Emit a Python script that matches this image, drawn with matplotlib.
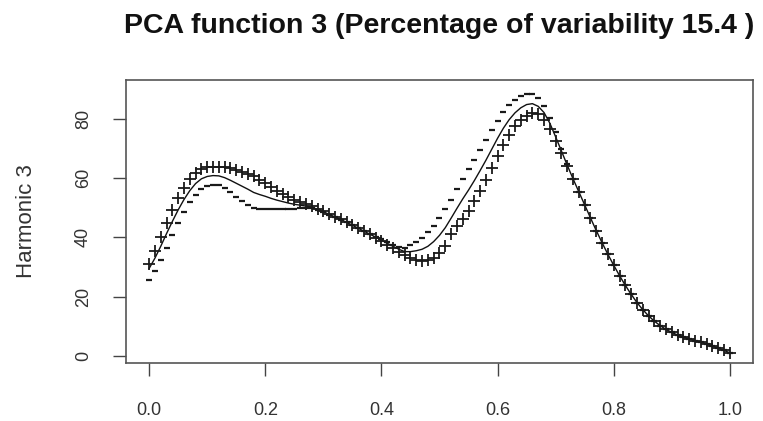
import numpy as np
import matplotlib
matplotlib.use("Agg")
from matplotlib import pyplot as plt

# evaluation grid of the functional PCA plot (0..1, step 0.01)
grid = np.linspace(0, 1, 101)

# mean curve (solid line)
mean_curve = [
    29.5, 33.0, 37.0, 41.3, 45.4, 49.3, 52.8, 55.8, 58.2, 59.8,
    60.6, 60.9, 60.8, 60.2, 59.3, 58.3, 57.3, 56.3, 55.2, 54.5,
    53.9, 53.2, 52.6, 52.1, 51.6, 51.2, 50.9, 50.6, 50.2, 49.5,
    48.7, 47.8, 46.9, 46.0, 45.1, 44.1, 43.1, 42.1, 41.1, 40.1,
    39.1, 38.0, 37.0, 36.0, 35.2, 35.2, 35.5, 36.0, 37.0, 38.6,
    40.7, 43.3, 46.5, 49.8, 53.0, 56.0, 59.2, 62.6, 66.1, 69.8,
    73.5, 76.9, 79.8, 82.1, 83.8, 84.9, 85.2, 84.3, 82.2, 78.6,
    74.0, 69.2, 64.4, 59.8, 55.4, 51.0, 46.6, 42.3, 38.2, 34.3,
    30.6, 27.1, 23.8, 20.8, 18.0, 15.6, 13.5, 11.7, 10.2, 8.9,
    7.9, 7.0, 6.3, 5.7, 5.1, 4.6, 4.0, 3.3, 2.6, 1.8,
    1.0]

# mean + harmonic ("+" points)
plus_curve = [
    31.0, 35.5, 40.3, 45.0, 49.3, 53.3, 56.8, 59.8, 61.9, 63.1,
    63.7, 63.9, 63.9, 63.7, 63.3, 62.8, 62.2, 61.5, 60.6, 59.5,
    58.3, 57.0, 55.8, 54.7, 53.7, 52.8, 52.0, 51.2, 50.5, 49.7,
    48.8, 47.9, 47.0, 46.1, 45.1, 44.1, 43.1, 42.1, 41.0, 39.9,
    38.8, 37.6, 36.4, 35.2, 34.0, 33.1, 32.5, 32.2, 32.4, 33.2,
    34.8, 37.2, 41.0, 43.7, 46.3, 48.9, 52.2, 55.7, 59.3, 63.5,
    67.6, 71.4, 74.7, 77.5, 79.7, 81.2, 81.9, 81.6, 79.8, 76.6,
    72.6, 68.4, 64.1, 59.8, 55.4, 51.0, 46.6, 42.3, 38.2, 34.3,
    30.6, 27.1, 23.8, 20.8, 18.0, 15.6, 13.5, 11.7, 10.2, 8.9,
    7.9, 7.0, 6.3, 5.7, 5.1, 4.6, 4.0, 3.3, 2.6, 1.8,
    1.0]

# mean - harmonic ("-" points)
minus_curve = [
    25.5, 28.8, 32.5, 36.5, 40.7, 44.8, 48.6, 51.9, 54.5, 56.3,
    57.4, 57.8, 57.6, 56.8, 55.4, 53.8, 52.3, 51.0, 49.8, 49.5,
    49.5, 49.5, 49.5, 49.5, 49.5, 49.6, 49.8, 50.0, 49.9, 49.3,
    48.6, 47.7, 46.8, 45.9, 45.1, 44.1, 43.1, 42.1, 41.2, 40.3,
    39.4, 38.4, 37.6, 36.8, 36.4, 37.4, 38.5, 39.9, 41.7, 44.0,
    46.6, 49.5, 52.8, 56.2, 59.6, 63.0, 66.3, 69.6, 72.9, 76.2,
    79.5, 82.4, 84.8, 86.6, 87.9, 88.6, 88.4, 87.0, 84.5, 80.5,
    75.5, 70.0, 64.8, 59.8, 55.4, 51.0, 46.6, 42.3, 38.2, 34.3,
    30.6, 27.1, 23.8, 20.8, 18.0, 15.6, 13.5, 11.7, 10.2, 8.9,
    7.9, 7.0, 6.3, 5.7, 5.1, 4.6, 4.0, 3.3, 2.6, 1.8,
    1.0]

x_ticks = [0.0, 0.2, 0.4, 0.6, 0.8, 1.0]
y_ticks = [0, 20, 40, 60, 80]

plt.rcParams['font.family'] = ['Liberation Sans', 'DejaVu Sans']

fig = plt.figure(figsize=(7.63, 4.21), dpi=100)
ax = fig.add_axes([0.165, 0.138, 0.822, 0.672])

ax.plot(grid, mean_curve, color='#111111', lw=1.0)
ax.plot(grid, plus_curve, ls='none', marker='+', ms=8.5, mew=1.3, color='#1a1a1a')
ax.plot(grid, minus_curve, ls='none', marker='_', ms=5, mew=1.6, color='#1a1a1a')

ax.set_xlim(-0.04, 1.04)
ax.set_ylim(-2.4, 93.2)
ax.set_xticks(x_ticks)
ax.set_xticklabels(["%.1f" % t for t in x_ticks])
ax.set_yticks(y_ticks)
ax.set_yticklabels([str(t) for t in y_ticks], rotation=90, va='center')
ax.tick_params(axis='both', direction='out', length=9.5, width=1.0, color='#444444',
               labelsize=13, labelcolor='#333333')
ax.tick_params(axis='x', pad=19)
ax.tick_params(axis='y', pad=15)

for s in ax.spines.values():
    s.set_color('#555555')
    s.set_linewidth(1.2)

ax.set_ylabel('Harmonic 3', fontsize=16, color='#333333', labelpad=27)
ax.set_title('PCA function 3 (Percentage of variability 15.4 )',
             fontsize=20.5, fontweight='bold', color='#111111', pad=34)

fig.savefig('out.png', dpi=100)
